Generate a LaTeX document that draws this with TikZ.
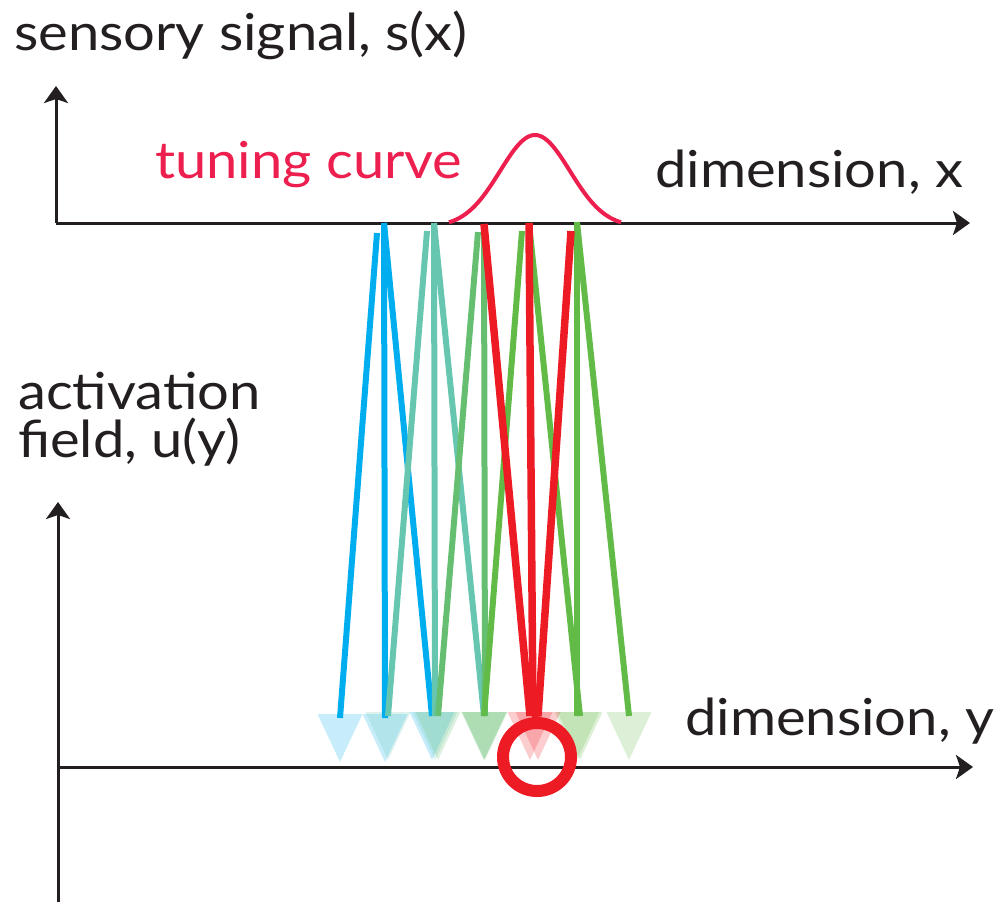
\documentclass[tikz,border=0pt]{standalone}
\usepackage{fontspec}
\setmainfont{Lato}[FakeStretch=1.1]
\usetikzlibrary{arrows.meta,calc}
\definecolor{axisc}{HTML}{231F20}
\definecolor{cblue}{HTML}{00AEEF}
\definecolor{cteal}{HTML}{66C6B0}
\definecolor{cgreenA}{HTML}{66BF71}
\definecolor{cgreenB}{HTML}{63BB47}
\definecolor{cred}{HTML}{ED1C24}
\definecolor{ctune}{HTML}{EC1F4E}
\tikzset{
  axis/.style={draw=axisc, line width=3pt, -{Stealth[length=17pt,width=24pt,inset=4pt]}},
  conn/.style={line width=6pt},
  redconn/.style={line width=7.5pt, draw=cred},
  lbl/.style={anchor=base west, inner sep=0pt, font=\fontsize{51}{56}\selectfont, text=axisc},
  head/.style={fill=#1, fill opacity=0.22, draw=none},
}
\newcommand{\headat}[2]{\fill[head=#2] ($(#1)+(-22.5,-4)$) -- ($(#1)+(22.5,-4)$) -- ($(#1)+(0,44)$) -- cycle;}
\begin{document}
\begin{tikzpicture}[x=1pt,y=-1pt]
\useasboundingbox (0,0) rectangle (1006,902);
% axes
\coordinate (o1) at (56,223);
\coordinate (y1) at (56,86);
\coordinate (x1) at (970,223);
\coordinate (o2) at (58,767);
\coordinate (y2) at (58,502);
\coordinate (y2b) at (58,902);
\coordinate (x2) at (973,767);
\draw[axis] (o1) -- (y1);
\draw[axis] (o1) -- (x1);
\draw[axis] (y2b) -- (y2);
\draw[axis] (o2) -- (x2);
% labels
\node[lbl] (ls) at (14,50) {sensory signal, s(x)};
\node[lbl, text=ctune] (lt) at (155,178) {tuning curve};
\node[lbl] (ldx) at (655,187) {dimension, x};
\node[lbl] (la) at (18,409) {activation};
\node[lbl] (lf) at (18,457) {field, u(y)};
\node[lbl] (ldy) at (685,735) {dimension, y};
% tuning curve
\draw[ctune, line width=4pt] plot[domain=-86:86, samples=80] ({535+\x},{222-87*(exp(-(\x/35)^2/2)-0.0525)/(1-0.0525)});
% top points
\coordinate (t1l) at (377,233); \coordinate (t1) at (384,223);
\coordinate (t2l) at (427,231); \coordinate (t2) at (434,223);
\coordinate (t3l) at (478,232); \coordinate (t3) at (484,224);
\coordinate (t4l) at (522,231); \coordinate (t4) at (529,223);
\coordinate (t5l) at (571,231); \coordinate (t5) at (577,222);
% bottom ends
\coordinate (b1a) at (340,718); \coordinate (b2a) at (385,718); \coordinate (b3a) at (432,716);
\coordinate (b2b) at (388,716); \coordinate (b3b) at (435,716); \coordinate (b4b) at (484,716);
\coordinate (b3c) at (438,716); \coordinate (b4c) at (485,716); \coordinate (b5c) at (530,716);
\coordinate (b4d) at (484,716); \coordinate (b5d) at (533,716); \coordinate (b6d) at (580,716);
\coordinate (b5e) at (538,716); \coordinate (b6e) at (577,716); \coordinate (b7e) at (629,716);
% arrowheads
\headat{b1a}{cblue}\headat{b2a}{cblue}\headat{b3a}{cblue}
\headat{b2b}{cteal}\headat{b3b}{cteal}\headat{b4b}{cteal}
\headat{b3c}{cgreenA}\headat{b4c}{cgreenA}
\headat{b4d}{cgreenB}\headat{b6d}{cgreenB}
\headat{b6e}{cgreenB}\headat{b7e}{cgreenB}
\headat{b5c}{cred}\headat{b5e}{cred}
% connectors
\draw[conn, cblue] (t1l) -- (b1a);
\draw[conn, cblue] (t1) -- (b2a);
\draw[conn, cblue] (t1) -- (b3a);
\draw[conn, cteal] (t2l) -- (b2b);
\draw[conn, cteal] (t2) -- (b3b);
\draw[conn, cteal] (t2) -- (b4b);
\draw[conn, cgreenA] (t3l) -- (b3c);
\draw[conn, cgreenA] (t3) -- (b4c);
\draw[conn, cgreenB] (t4l) -- (b4d);
\draw[conn, cgreenB] (t4) -- (b6d);
\draw[conn, cgreenB] (t5) -- (b6e);
\draw[conn, cgreenB] (t5) -- (b7e);
\draw[redconn] (t3) -- (b5c);
\draw[redconn] (t4) -- (b5d);
\draw[redconn] (t5l) -- (b5e);
% winner
\coordinate (stem) at (534,700);
\node[draw=cred, line width=12pt, circle, minimum size=68pt, inner sep=0pt] (win) at (537,757) {};
\draw[cred, line width=10pt] (stem) -- (win.north);
\end{tikzpicture}
\end{document}
